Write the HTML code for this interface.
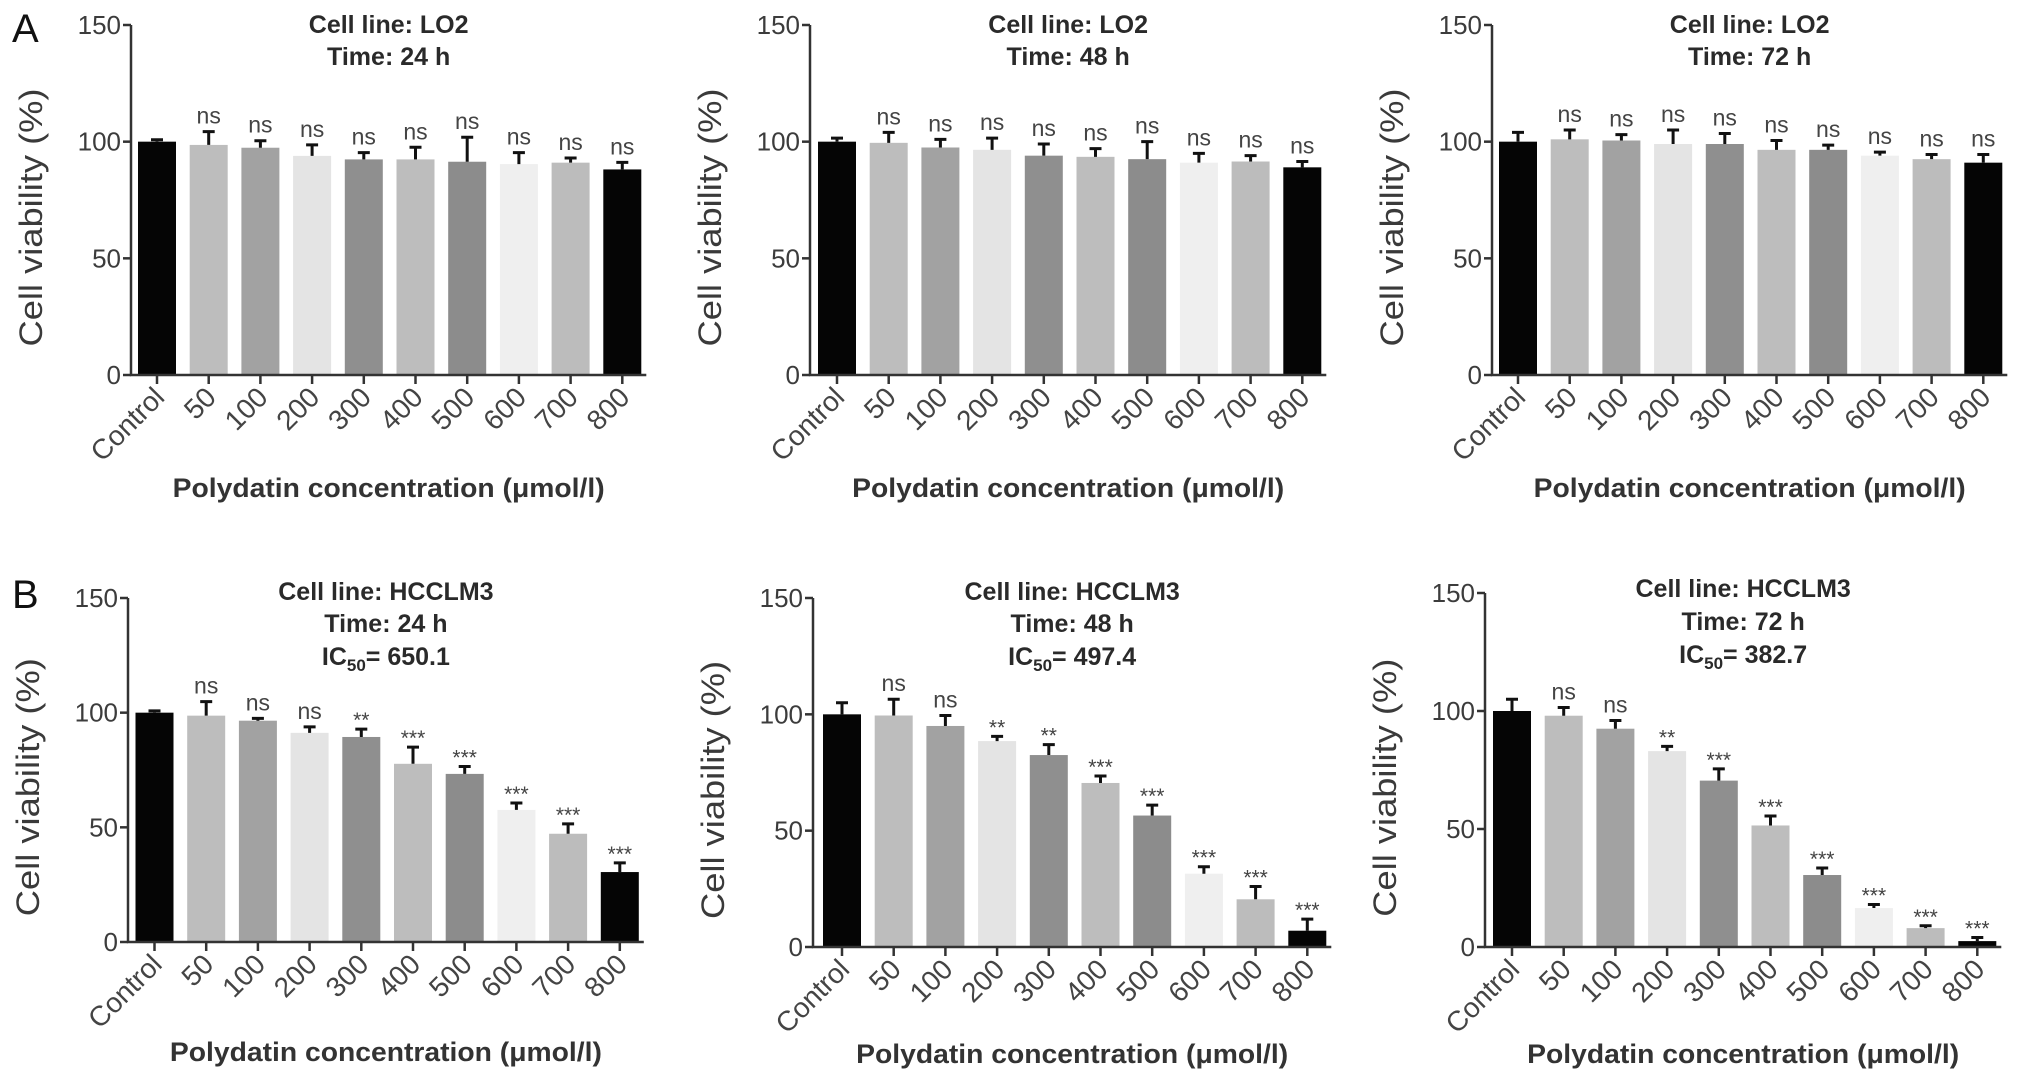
<!DOCTYPE html>
<html><head><meta charset="utf-8"><style>
html,body{margin:0;padding:0;background:#fff;}
svg{display:block;font-family:"Liberation Sans",Arial,sans-serif;}
</style></head><body>
<svg id="fig" width="2031" height="1089" viewBox="0 0 2031 1089">
<text x="12" y="42" font-size="40" fill="#111">A</text>
<text x="12" y="608" font-size="40" fill="#111">B</text>
</svg>
<script>
const categories = ["Control","50","100","200","300","400","500","600","700","800"];
const yTicks = [0,50,100,150];
const barColors = ["#050505","#bdbdbd","#a2a2a2","#e4e4e4","#8f8f8f","#bdbdbd","#8c8c8c","#efefef","#bcbcbc","#050505"];

const a1Values = [100,98.6,97.4,93.9,92.4,92.4,91.4,90.4,91,88.1];
const a1Errors = [0.8,5.7,3,4.7,2.9,5.2,10.5,4.9,2,3];
const a1Sig = ["","ns","ns","ns","ns","ns","ns","ns","ns","ns"];

const a2Values = [100,99.5,97.5,96.5,94,93.5,92.5,91,91.5,89];
const a2Errors = [1.5,4.5,3.5,5,5,3.5,7.5,4,2.5,2.5];
const a2Sig = ["","ns","ns","ns","ns","ns","ns","ns","ns","ns"];

const a3Values = [100,101,100.5,99,99,96.5,96.5,94,92.5,91];
const a3Errors = [4,4,2.5,6,4.5,4,2,1.5,2,3.5];
const a3Sig = ["","ns","ns","ns","ns","ns","ns","ns","ns","ns"];

const b1Values = [100,98.7,96.5,91.2,89.4,77.7,73.3,57.6,47.2,30.5];
const b1Errors = [0.8,6.1,1,2.6,3.4,7.3,3.2,3,4.3,4];
const b1Sig = ["","ns","ns","ns","**","***","***","***","***","***"];

const b2Values = [100,99.5,95,88.5,82.5,70.5,56.5,31.5,20.5,7];
const b2Errors = [5,7,4.5,2,4.5,3,4.5,3,5.5,5];
const b2Sig = ["","ns","ns","**","**","***","***","***","***","***"];

const b3Values = [100,98,92.5,83,70.5,51.5,30.5,16.5,8,2.5];
const b3Errors = [5,3.5,3.5,2,5,4,3,1.5,1,1.5];
const b3Sig = ["","ns","ns","**","***","***","***","***","***","***"];

const NS = "http://www.w3.org/2000/svg";
const svg = document.getElementById("fig");
function mk(tag, parent){ const e = document.createElementNS(NS, tag); parent.appendChild(e); return e; }

const panels = [
 {id:"a1", ax:131, c0:157, top:25, bot:375, titles:["Cell line: LO2","Time: 24 h"], tb:[33,65], xt:497, vals:a1Values, errs:a1Errors, sig:a1Sig},
 {id:"a2", ax:810, c0:837, top:25, bot:375, titles:["Cell line: LO2","Time: 48 h"], tb:[33,65], xt:497, vals:a2Values, errs:a2Errors, sig:a2Sig},
 {id:"a3", ax:1492, c0:1518, top:25, bot:375, titles:["Cell line: LO2","Time: 72 h"], tb:[33,65], xt:497, vals:a3Values, errs:a3Errors, sig:a3Sig},
 {id:"b1", ax:128, c0:154.5, top:598, bot:942, titles:["Cell line: HCCLM3","Time: 24 h","650.1"], tb:[600,632,665], xt:1061, vals:b1Values, errs:b1Errors, sig:b1Sig},
 {id:"b2", ax:813, c0:842, top:598, bot:947, titles:["Cell line: HCCLM3","Time: 48 h","497.4"], tb:[600,632,665], xt:1063, vals:b2Values, errs:b2Errors, sig:b2Sig},
 {id:"b3", ax:1485, c0:1512, top:593, bot:947, titles:["Cell line: HCCLM3","Time: 72 h","382.7"], tb:[597,630,663], xt:1063, vals:b3Values, errs:b3Errors, sig:b3Sig}
];
const STEP = 51.7, BW = 38;

panels.forEach(p => {
  const g = mk("g", svg);
  
  
  const yS = v => p.bot - (v/150)*(p.bot - p.top);
  const xS = i => p.c0 + i*STEP;
  const xEnd = xS(categories.length-1) + 24;
  const cx = (p.ax + xEnd)/2;

  categories.forEach((c,i) => {
    const r = mk("rect", g);
    
    
    r.setAttribute("x", xS(i)-BW/2); r.setAttribute("width", BW);
    r.setAttribute("y", yS(p.vals[i])); r.setAttribute("height", yS(0)-yS(p.vals[i]));
    r.setAttribute("fill", barColors[i]);
    const top = yS(p.vals[i] + p.errs[i]);
    const e = mk("path", g);
    
    
    e.setAttribute("d", `M${xS(i)},${yS(p.vals[i])}V${top}M${xS(i)-6},${top}H${xS(i)+6}`);
    e.setAttribute("stroke", "#111"); e.setAttribute("stroke-width", "3"); e.setAttribute("fill","none");
    if (p.sig[i]) {
      const s = mk("text", g);
      
      
      s.setAttribute("x", xS(i)); s.setAttribute("y", top - (p.sig[i]==="ns" ? 8 : 2));
      s.setAttribute("text-anchor","middle"); s.setAttribute("font-size", p.sig[i]==="ns" ? 23 : 21);
      s.setAttribute("fill","#444"); s.textContent = p.sig[i];
    }
    const t = mk("line", g);
    
    
    t.setAttribute("x1", xS(i)); t.setAttribute("x2", xS(i)); t.setAttribute("y1", p.bot); t.setAttribute("y2", p.bot+9);
    t.setAttribute("stroke","#333"); t.setAttribute("stroke-width","2.5");
    const tl = mk("text", g);
    
    
    const lx = xS(i)+9, ly = p.bot+24;
    tl.setAttribute("x", lx); tl.setAttribute("y", ly);
    tl.setAttribute("transform", `rotate(-45 ${lx} ${ly})`);
    tl.setAttribute("text-anchor","end"); tl.setAttribute("font-size","28"); tl.setAttribute("fill","#444");
    tl.textContent = c;
  });

  const ax = mk("path", g);
  
  
  ax.setAttribute("d", `M${p.ax},${p.top}V${p.bot}H${xEnd}`);
  ax.setAttribute("stroke","#333"); ax.setAttribute("stroke-width","2.5"); ax.setAttribute("fill","none");
  yTicks.forEach(v => {
    const t = mk("line", g);
    
    
    t.setAttribute("x1", p.ax-8); t.setAttribute("x2", p.ax); t.setAttribute("y1", yS(v)); t.setAttribute("y2", yS(v));
    t.setAttribute("stroke","#333"); t.setAttribute("stroke-width","2.5");
    const l = mk("text", g);
    
    
    l.setAttribute("x", p.ax-10); l.setAttribute("y", yS(v)+9);
    l.setAttribute("text-anchor","end"); l.setAttribute("font-size","26"); l.setAttribute("fill","#3c3c3c");
    l.textContent = v;
  });

  p.titles.forEach((tt,k) => {
    const t = mk("text", g);
    
    
    t.setAttribute("x", cx); t.setAttribute("y", p.tb[k]);
    t.setAttribute("text-anchor","middle"); t.setAttribute("font-size","25"); t.setAttribute("font-weight","bold"); t.setAttribute("fill","#2a2a2a");
    if (k === 2) {
      t.appendChild(document.createTextNode("IC"));
      const sub = mk("tspan", t);
      sub.setAttribute("font-size","17"); sub.setAttribute("dy","6"); sub.textContent = "50";
      const rest = mk("tspan", t);
      rest.setAttribute("dy","-6"); rest.textContent = "= " + tt;
    } else t.textContent = tt;
  });

  const yt = mk("text", g);
  
  
  const yx = p.ax - 89, yy = p.top + 0.55*(p.bot-p.top);
  yt.setAttribute("x", yx); yt.setAttribute("y", yy);
  yt.setAttribute("transform", `rotate(-90 ${yx} ${yy})`);
  yt.setAttribute("text-anchor","middle"); yt.setAttribute("font-size","32"); yt.setAttribute("fill","#3a3a3a");
  yt.setAttribute("textLength","258"); yt.setAttribute("lengthAdjust","spacingAndGlyphs");
  yt.textContent = "Cell viability (%)";

  const xt = mk("text", g);
  
  
  xt.setAttribute("x", cx); xt.setAttribute("y", p.xt);
  xt.setAttribute("text-anchor","middle"); xt.setAttribute("font-size","27"); xt.setAttribute("font-weight","bold"); xt.setAttribute("fill","#333");
  xt.setAttribute("textLength","432"); xt.setAttribute("lengthAdjust","spacingAndGlyphs");
  xt.textContent = "Polydatin concentration (μmol/l)";
});
</script>
</body></html>
